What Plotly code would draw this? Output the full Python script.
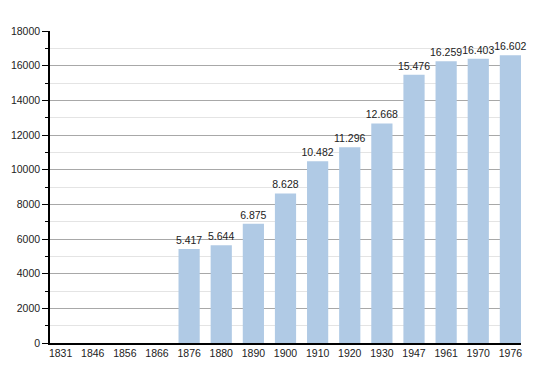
import plotly.graph_objects as go

years = ["1831", "1846", "1856", "1866", "1876", "1880", "1890", "1900", "1910",
         "1920", "1930", "1947", "1961", "1970", "1976"]
population = [None, None, None, None, 5417, 5644, 6875, 8628, 10482,
              11296, 12668, 15476, 16259, 16403, 16602]
y_ticks = [0, 2000, 4000, 6000, 8000, 10000, 12000, 14000, 16000, 18000]
y_tick_text = [str(v) for v in y_ticks]

labels = ["" if v is None else f"{v:,}".replace(",", ".") for v in population]

fig = go.Figure(go.Bar(
    x=years, y=population, text=labels, textposition="outside",
    constraintext="none",
    textfont=dict(size=10.5, color="#222222", family="Liberation Sans, Arial"),
    marker=dict(color="#b0cae5", line=dict(width=0)),
    width=0.66, cliponaxis=False,
))

fig.update_layout(
    width=542, height=365,
    margin=dict(l=42, r=29, t=23, b=30),
    plot_bgcolor="white", paper_bgcolor="white",
    font=dict(family="Liberation Sans, Arial", size=10, color="#222222"),
    showlegend=False,
    xaxis=dict(type="category", range=[-0.33, 14.33], showline=True, linecolor="black",
               linewidth=1.5, ticks="", showgrid=False, tickfont=dict(size=10.5),
               automargin=False),
    yaxis=dict(range=[0, 18000], tickvals=y_ticks, ticktext=y_tick_text,
               showline=True, linecolor="black",
               linewidth=1.5, ticks="outside", ticklen=6, tickcolor="black",
               showgrid=True, gridcolor="#a8a8a8", gridwidth=1, zeroline=False,
               tickfont=dict(size=10.5), automargin=False,
               minor=dict(dtick=1000, showgrid=True, gridcolor="#e4e4e4",
                          ticks="outside", ticklen=3, tickcolor="black")),
    bargap=0.34,
)

fig.write_html("out.html")
